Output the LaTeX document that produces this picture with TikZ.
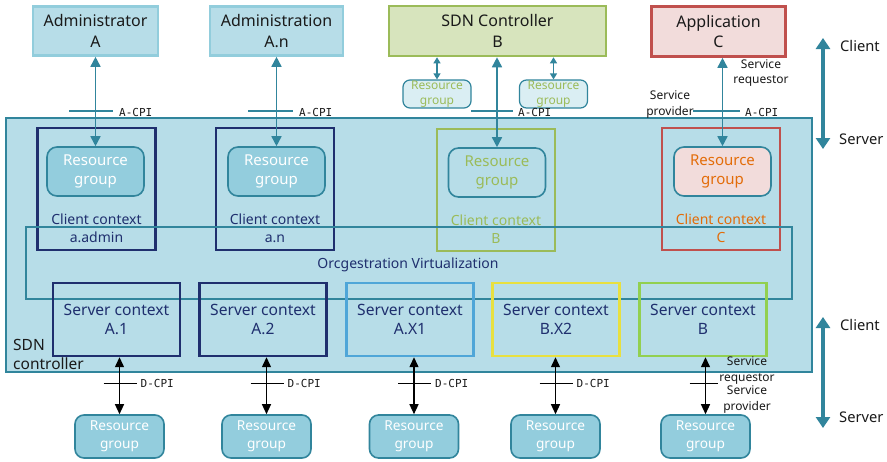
\documentclass[tikz,border=0pt]{standalone}
\usepackage{fontspec}
\setmainfont{Noto Sans}
\newfontfamily\monof{DejaVu Sans Mono}
\usetikzlibrary{arrows.meta}
\definecolor{lb}{HTML}{B7DDE8}
\definecolor{lbb}{HTML}{92CDDC}
\definecolor{tl}{HTML}{31859C}
\definecolor{navy}{HTML}{1F2F6E}
\definecolor{gfill}{HTML}{D7E4BD}
\definecolor{gline}{HTML}{9BBB59}
\definecolor{rfill}{HTML}{F2DCDB}
\definecolor{rline}{HTML}{C0504D}
\definecolor{orng}{HTML}{E36C09}
\definecolor{rgfill}{HTML}{93CDDD}
\definecolor{smallfill}{HTML}{DAEEF3}
\definecolor{skyb}{HTML}{4FA6D8}
\definecolor{yel}{HTML}{E8E040}
\definecolor{lgreen}{HTML}{92D050}
\definecolor{txt}{HTML}{1A1A1A}
\tikzset{
  topbox/.style={draw, line width=2.6pt, inner sep=0pt, align=center, text=txt,
    font=\fontsize{16}{20.5}\selectfont},
  ctxbox/.style={draw, line width=2.4pt, inner sep=0pt, minimum width=118pt, minimum height=122pt},
  rgbox/.style={draw=tl, line width=1.6pt, rounded corners=10pt, inner sep=0pt, align=center,
    minimum width=97pt, minimum height=49pt, font=\fontsize{15}{19.5}\selectfont},
  botrg/.style={draw=tl, line width=1.6pt, rounded corners=9pt, fill=rgfill, text=white, inner sep=0pt,
    align=center, minimum width=89pt, minimum height=43pt, font=\fontsize{13.7}{18}\selectfont},
  smallrg/.style={draw=tl, line width=1.2pt, rounded corners=7pt, fill=smallfill, text=gline, inner sep=0pt,
    align=center, minimum width=68pt, minimum height=28pt, font=\fontsize{12}{15}\selectfont},
  srvbox/.style={draw, line width=2.4pt, inner sep=0pt, align=center, text=navy,
    minimum width=127pt, minimum height=73pt, font=\fontsize{15.6}{19.5}\selectfont},
  ctxlabel/.style={align=center, inner sep=0pt, font=\fontsize{14}{18}\selectfont},
  cpi/.style={inner sep=0pt, anchor=west, font=\monof\fontsize{11}{13}\selectfont, text=txt},
  small/.style={inner sep=0pt, align=center, font=\fontsize{12}{15.5}\selectfont, text=txt},
  tarrow/.style={draw=tl, line width=1.6pt, {Triangle[length=10pt,width=10pt]}-{Triangle[length=10pt,width=10pt]}},
  sarrow/.style={draw=tl, line width=1.2pt, {Triangle[length=6pt,width=7pt]}-{Triangle[length=6pt,width=7pt]}},
  darrow/.style={draw=black, line width=1.3pt, {Triangle[length=10pt,width=9pt]}-{Triangle[length=10pt,width=9pt]}},
  bar/.style={draw=tl, line width=1.3pt},
  dbar/.style={draw=black, line width=1pt},
  bigarrow/.style={draw=tl, line width=4.5pt, {Triangle[length=11pt,width=14pt]}-{Triangle[length=11pt,width=14pt]}},
  sidelabel/.style={anchor=west, inner sep=0pt, font=\fontsize{14.7}{16}\selectfont, text=txt}
}
\begin{document}
\begin{tikzpicture}[x=1pt,y=-1pt]
\useasboundingbox (0,0) rectangle (887,461);
\fill[white] (0,0) rectangle (887,461);

% main SDN controller box
\node[draw=tl, fill=lb, line width=1.8pt, minimum width=806pt, minimum height=254pt, inner sep=0pt] (main) at (409,245) {};
\node[anchor=north west, inner sep=0pt, align=left, font=\fontsize{15.5}{19}\selectfont, text=txt] (sdnlab) at (13,339) {SDN\\controller};

% top boxes
\node[topbox, draw=lbb, fill=lb, minimum width=125pt, minimum height=49pt] (admA) at (95.5,31) {Administrator\\A};
\node[topbox, draw=lbb, fill=lb, minimum width=133pt, minimum height=49pt] (admN) at (276.5,31) {Administration\\A.n};
\node[topbox, draw=gline, fill=gfill, minimum width=217pt, minimum height=50pt] (sdnB) at (497.5,31) {SDN Controller\\B};
\node[topbox, draw=rline, fill=rfill, minimum width=134pt, minimum height=50pt] (appC) at (718.5,31.5) {Application\\C};

% small resource groups
\node[smallrg] (srg1) at (437,94) {Resource\\group};
\node[smallrg] (srg2) at (553.5,94) {Resource\\group};
\draw[sarrow] (srg1.north) -- (srg1.north |- sdnB.south);
\draw[sarrow] (srg2.north) -- (srg2.north |- sdnB.south);

% client contexts
\node[ctxbox, draw=navy] (ccA) at (96.5,189) {};
\node[rgbox, fill=rgfill, text=white] (rgA) at (95.5,171.5) {Resource\\group};
\node[ctxlabel, text=navy] (clA) at (96.5,228) {Client context\\a.admin};

\node[ctxbox, draw=navy] (ccN) at (275,189) {};
\node[rgbox, fill=rgfill, text=white] (rgN) at (276.5,171.5) {Resource\\group};
\node[ctxlabel, text=navy] (clN) at (275,228) {Client context\\a.n};

\node[ctxbox, draw=gline] (ccB) at (496,190) {};
\node[rgbox, fill=lb, text=gline] (rgB) at (497,172.5) {Resource\\group};
\node[ctxlabel, text=gline] (clB) at (496,229) {Client context\\B};

\node[ctxbox, draw=rline] (ccC) at (721,189) {};
\node[rgbox, fill=rfill, text=orng] (rgC) at (722.5,171.5) {Resource\\group};
\node[ctxlabel, text=orng] (clC) at (721,228) {Client context\\C};

% orchestration box
\node[draw=tl, line width=1.1pt, minimum width=766pt, minimum height=72pt, inner sep=0pt] (orch) at (409,263) {};
\node[inner sep=0pt, text=navy, font=\fontsize{14}{16}\selectfont] (orchlab) at (408,265) {Orcgestration Virtualization};

% A-CPI connectors
\draw[tarrow] (rgA.north) -- (rgA.north |- admA.south);
\draw[tarrow] (rgN.north) -- (rgN.north |- admN.south);
\draw[tarrow] (rgB.north) -- (rgB.north |- sdnB.south);
\draw[tarrow] (rgC.north) -- (rgC.north |- appC.south);

\coordinate (ba1) at (69,111); \coordinate (ba2) at (113,111);
\draw[bar] (ba1) -- (ba2);
\node[cpi] (cpiA) at (119,112) {A-CPI};
\coordinate (bn1) at (248,111); \coordinate (bn2) at (293,111);
\draw[bar] (bn1) -- (bn2);
\node[cpi] (cpiN) at (299,112) {A-CPI};
\coordinate (bb1) at (471,111); \coordinate (bb2) at (513,111);
\draw[bar] (bb1) -- (bb2);
\node[cpi] (cpiB) at (518,112) {A-CPI};
\coordinate (bc1) at (693,111); \coordinate (bc2) at (740,111);
\draw[bar] (bc1) -- (bc2);
\node[cpi] (cpiC) at (745,112) {A-CPI};

\node[small] (sreq) at (761,73) {Service\\requestor};
\node[small] (sprov) at (670,104.5) {Service\\provider};

% server contexts
\node[srvbox, draw=navy] (sc1) at (116.5,319.5) {Server context\\A.1};
\node[srvbox, draw=navy] (sc2) at (263,319.5) {Server context\\A.2};
\node[srvbox, draw=skyb] (sc3) at (410,319.5) {Server context\\A.X1};
\node[srvbox, draw=yel] (sc4) at (556,319.5) {Server context\\B.X2};
\node[srvbox, draw=lgreen] (sc5) at (703,319.5) {Server context\\B};

% bottom resource groups
\node[botrg] (br1) at (119.5,436.5) {Resource\\group};
\node[botrg] (br2) at (266.5,436.5) {Resource\\group};
\node[botrg] (br3) at (414,436.5) {Resource\\group};
\node[botrg] (br4) at (555.5,436.5) {Resource\\group};
\node[botrg] (br5) at (705.5,436.5) {Resource\\group};

\coordinate (dy) at (0,383);
\foreach \i in {1,...,5}{
  \draw[darrow] (br\i.north) -- (br\i.north |- sc\i.south);
}
\foreach \i in {1,...,4}{
  \coordinate (d\i) at (br\i.north |- dy);
  \draw[dbar] ([xshift=-16pt]d\i) -- ([xshift=17pt]d\i);
  \node[cpi] (dl\i) at ([xshift=21pt,yshift=-0.5pt]d\i) {D-CPI};
}
\coordinate (d5) at (br5.north |- dy);
\draw[dbar] ([xshift=-16pt]d5) -- ([xshift=12pt]d5);
\node[small] (sreq2) at (747,370.5) {Service\\requestor};
\node[small] (sprov2) at (747,399.5) {Service\\provider};

% client / server arrows
\coordinate (cs1t) at (823,38); \coordinate (cs1b) at (823,149);
\draw[bigarrow] (cs1t) -- (cs1b);
\node[sidelabel] (cl1) at (840,46) {Client};
\node[sidelabel] (sv1) at (839,139) {Server};
\coordinate (cs2t) at (823,317); \coordinate (cs2b) at (823,428);
\draw[bigarrow] (cs2t) -- (cs2b);
\node[sidelabel] (cl2) at (840,325) {Client};
\node[sidelabel] (sv2) at (839,417) {Server};
\end{tikzpicture}
\end{document}
